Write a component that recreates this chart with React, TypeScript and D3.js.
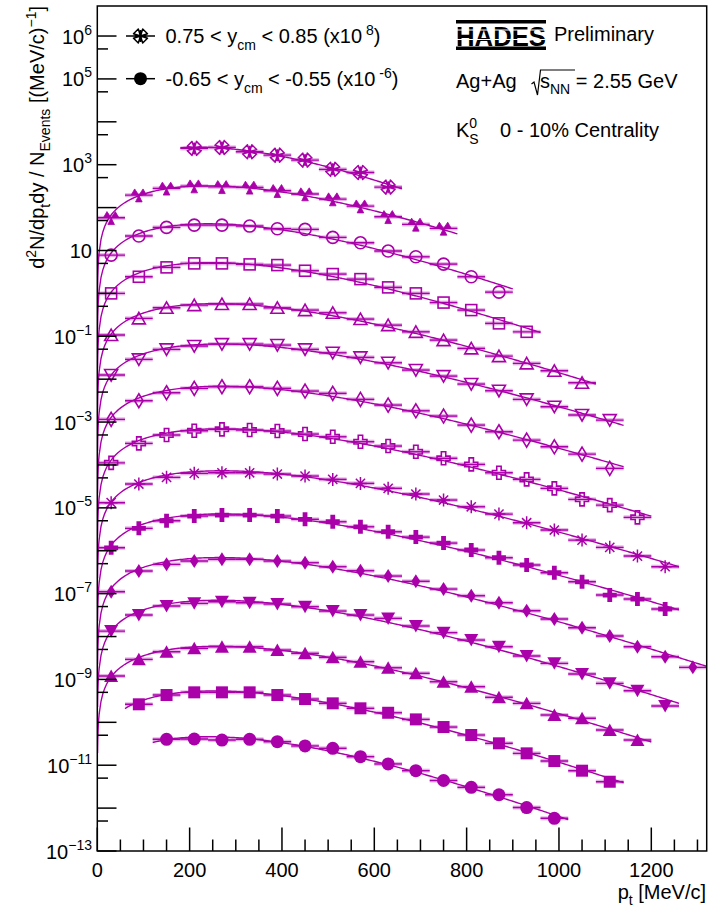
import React from 'react';
import * as d3 from 'd3';

// p_t bin centres [MeV/c], 60 MeV/c wide bins
const PT_BINS = [30, 90, 150, 210, 270, 330, 390, 450, 510, 570, 630, 690, 750, 810, 870, 930, 990, 1050, 1110, 1170, 1230, 1290];
const BIN_HALF = 30;

// yields as plotted (already multiplied by the 10^n factor of each rapidity bin)
const yieldYp08 = [2.40e3, 2.53e3, 2.00e3, 1.67e3, 1.28e3, 7.8e2, 6.6e2, 3.0e2];
const yieldYp07 = [57.8, 195, 281, 317, 305, 296, 247, 207, 158, 108, 61, 40.6, 32.7];
const yieldYp06 = [7.8, 21.7, 34.5, 39.1, 39.1, 37.1, 32.1, 31.0, 20.2, 15.1, 9.7, 7.13, 4.82, 2.44, 1.07];
const yieldYp05 = [1.0, 2.44, 4.04, 5.0, 5.0, 4.74, 4.57, 3.37, 2.82, 2.15, 1.38, 1.0, 0.611, 0.408, 0.2, 0.127];
const yieldYp04 = [0.107, 0.261, 0.461, 0.533, 0.564, 0.564, 0.461, 0.408, 0.353, 0.252, 0.182, 0.127, 0.0815, 0.0522, 0.0345, 0.0233, 0.0157, 0.00824];
const yieldYp03 = [0.01248, 0.029, 0.0495, 0.0592, 0.0658, 0.0658, 0.0624, 0.0495, 0.0412, 0.0322, 0.0241, 0.0163, 0.0118, 0.00769, 0.00537, 0.00338, 0.00228, 0.00146, 0.00111];
const yieldYp02 = [1.156e-3, 3.14e-3, 4.82e-3, 6.11e-3, 6.65e-3, 6.65e-3, 6.11e-3, 5.28e-3, 4.67e-3, 3.38e-3, 2.49e-3, 1.83e-3, 1.38e-3, 8.51e-4, 5.94e-4, 3.8e-4, 2.65e-4, 1.79e-4, 8.34e-5];
const yieldYp01 = [1.12e-4, 3.18e-4, 4.98e-4, 6.26e-4, 6.76e-4, 6.52e-4, 6.17e-4, 5.25e-4, 4.54e-4, 3.48e-4, 2.76e-4, 2.03e-4, 1.43e-4, 1.03e-4, 6.58e-5, 4.61e-5, 2.85e-5, 1.58e-5, 1.16e-5, 6.01e-6];
const yieldY00 = [1.32e-5, 3.59e-5, 5.14e-5, 6.37e-5, 6.58e-5, 6.58e-5, 6.14e-5, 5.51e-5, 4.61e-5, 3.72e-5, 2.85e-5, 2.1e-5, 1.52e-5, 1.06e-5, 7.16e-6, 4.5e-6, 3.04e-6, 1.77e-6, 1.2e-6, 7.52e-7, 4.24e-7];
const yieldYm01 = [1.17e-6, 3.33e-6, 5.0e-6, 6.44e-6, 6.79e-6, 6.79e-6, 6.44e-6, 5.4e-6, 4.74e-6, 3.62e-6, 2.77e-6, 2.08e-6, 1.51e-6, 1.04e-6, 6.87e-7, 4.65e-7, 3.07e-7, 1.89e-7, 9.27e-8, 7.48e-8, 4.38e-8];
const yieldYm02 = [1.11e-7, 3.37e-7, 4.82e-7, 5.75e-7, 6.31e-7, 6.31e-7, 5.75e-7, 5.25e-7, 4.24e-7, 3.42e-7, 2.57e-7, 1.94e-7, 1.28e-7, 8.93e-8, 6.14e-8, 3.99e-8, 2.56e-8, 1.6e-8, 1.03e-8, 5.78e-9, 3.38e-9, 1.91e-9];
const yieldYm03 = [1.34e-8, 3.17e-8, 5.14e-8, 5.94e-8, 6.47e-8, 6.14e-8, 5.73e-8, 4.95e-8, 3.93e-8, 3.17e-8, 2.65e-8, 1.76e-8, 1.23e-8, 8.28e-9, 5.78e-9, 3.51e-9, 2.37e-9, 1.34e-9, 8.11e-10, 5.46e-10, 2.4e-10];
const yieldYm04 = [1.2e-9, 2.94e-9, 4.43e-9, 5.31e-9, 5.78e-9, 5.78e-9, 4.84e-9, 4.06e-9, 3.27e-9, 2.59e-9, 1.87e-9, 1.39e-9, 8.83e-10, 6.76e-10, 3.83e-10, 2.77e-10, 1.48e-10, 1.24e-10, 6.62e-11, 3.86e-11];
const yieldYm05 = [2.63e-10, 4.33e-10, 5.0e-10, 5.0e-10, 5.0e-10, 4.33e-10, 3.49e-10, 2.77e-10, 2.12e-10, 1.67e-10, 1.17e-10, 7.76e-11, 5.06e-11, 3.24e-11, 1.89e-11, 1.25e-11, 7.45e-12, 4.12e-12];
const yieldYm06 = [4.02e-11, 4.08e-11, 3.86e-11, 4.02e-11, 3.53e-11, 2.81e-11, 2.48e-11, 1.58e-11, 1.07e-11, 7.45e-12, 4.4e-12, 3.05e-12, 2.05e-12, 1.03e-12, 5.78e-13];

const YIELDS = [yieldYp08, yieldYp07, yieldYp06, yieldYp05, yieldYp04, yieldYp03, yieldYp02, yieldYp01, yieldY00, yieldYm01, yieldYm02, yieldYm03, yieldYm04, yieldYm05, yieldYm06];
// index into PT_BINS of the first point of every rapidity bin
const FIRST_BIN = [3, 0, 0, 0, 0, 0, 0, 0, 0, 0, 0, 0, 0, 1, 2];
const MARKERS = ['openStarX', 'fullThreeTri', 'openCircle', 'openSquare', 'openTriUp', 'openTriDown', 'openDiamond', 'openCross', 'asterisk', 'fullCross', 'fullDiamond', 'fullTriDown', 'fullTriUp', 'fullSquare', 'fullCircle'];

const Y_LABEL_EXP = [6, 5, 3, 1, -1, -3, -5, -7, -9, -11, -13];
const X_TICKS = [0, 200, 400, 600, 800, 1000, 1200];

const W = 719;
const H = 911;
const COLOR = '#aa00aa';
const FONT = '"Liberation Sans", Arial, Helvetica, sans-serif';
const K0_MASS = 497.6;

const x = d3.scaleLinear().domain([0, 1320]).range([97.3, 706.7]);
const y = d3.scaleLog().domain([1e-13, Math.pow(10, 6.7)]).range([851, 6]);

// Boltzmann fit  A * pt * mt * exp(-mt/T), least squares in log space
function fitBoltzmann(pts: number[], vals: number[]) {
  let best = { T: 100, logA: 0, sse: Infinity };
  for (let T = 40; T <= 250; T += 0.25) {
    const r = pts.map((p, i) => {
      const mt = Math.hypot(p, K0_MASS);
      return Math.log(vals[i]) - Math.log(p * mt) + mt / T;
    });
    const logA = d3.mean(r) as number;
    const sse = d3.sum(r, v => (v - logA) ** 2);
    if (sse < best.sse) best = { T, logA, sse };
  }
  return best;
}
const boltz = (p: number, f: { T: number; logA: number }) => {
  const mt = Math.hypot(p, K0_MASS);
  return Math.exp(f.logA) * p * mt * Math.exp(-mt / f.T);
};

// three narrow wedges pointing up-left, up-right and down
const threeTri = (() => {
  const r = 7.5;
  const half = (26 * Math.PI) / 180;
  return [-150, -30, 90]
    .map(a => {
      const t = (a * Math.PI) / 180;
      const p1 = [r * Math.cos(t - half), r * Math.sin(t - half)];
      const p2 = [r * Math.cos(t + half), r * Math.sin(t + half)];
      return `M0,0L${p1[0].toFixed(2)},${p1[1].toFixed(2)}L${p2[0].toFixed(2)},${p2[1].toFixed(2)}Z`;
    })
    .join('');
})();

function Marker({ kind, cx, cy, color }: { kind: string; cx: number; cy: number; color: string }) {
  const t = `translate(${cx},${cy})`;
  const open = { fill: 'none', stroke: color, strokeWidth: 1.6 };
  const full = { fill: color, stroke: 'none' };
  switch (kind) {
    case 'openCircle':
      return <circle cx={cx} cy={cy} r={6} {...open} />;
    case 'fullCircle':
      return <circle cx={cx} cy={cy} r={6.5} {...full} />;
    case 'openSquare':
      return <rect x={cx - 5.5} y={cy - 5.5} width={11} height={11} {...open} />;
    case 'fullSquare':
      return <rect x={cx - 6} y={cy - 6} width={12} height={12} {...full} />;
    case 'openTriUp':
      return <path transform={t} d="M0,-6L6.5,5.5L-6.5,5.5Z" {...open} />;
    case 'fullTriUp':
      return <path transform={t} d="M0,-6.5L7,6L-7,6Z" {...full} />;
    case 'openTriDown':
      return <path transform={t} d="M-6.5,-5.5L6.5,-5.5L0,6Z" {...open} />;
    case 'fullTriDown':
      return <path transform={t} d="M-7,-6L7,-6L0,6.5Z" {...full} />;
    case 'openDiamond':
      return <path transform={t} d="M0,-7L4.2,0L0,7L-4.2,0Z" {...open} />;
    case 'fullDiamond':
      return <path transform={t} d="M0,-7L4.5,0L0,7L-4.5,0Z" {...full} />;
    case 'openCross':
      return <path transform={t} d="M-2.2,-6.5H2.2V-2.2H6.5V2.2H2.2V6.5H-2.2V2.2H-6.5V-2.2H-2.2Z" {...open} />;
    case 'fullCross':
      return <path transform={t} d="M-2.4,-7H2.4V-2.4H7V2.4H2.4V7H-2.4V2.4H-7V-2.4H-2.4Z" {...full} />;
    case 'asterisk':
      return <path transform={t} d="M-6.5,0H6.5M0,-6.5V6.5M-4.6,-4.6L4.6,4.6M-4.6,4.6L4.6,-4.6" fill="none" stroke={color} strokeWidth={1.5} />;
    case 'fullThreeTri':
      return <path transform={t} d={threeTri} fill={color} stroke={color} strokeWidth={0.8} strokeLinejoin="round" />;
    case 'openStarX':
      return (
        <path
          transform={t}
          d="M0,0L-2.2,-7L-7,-2.2ZM0,0L7,-2.2L2.2,-7ZM0,0L2.2,7L7,2.2ZM0,0L-7,2.2L-2.2,7ZM0,-6V6M-6,0H6"
          fill="none"
          stroke={color}
          strokeWidth={1.5}
          strokeLinejoin="round"
        />
      );
    default:
      return null;
  }
}

const series = YIELDS.map((vals, k) => {
  const pts = vals.map((_, i) => PT_BINS[FIRST_BIN[k] + i]);
  const fit = fitBoltzmann(pts, vals);
  const lo = pts[0] - BIN_HALF;
  const hi = pts[pts.length - 1] + BIN_HALF;
  const samples = (lo === 0 ? [0.5, 1, 2, 3] : []).concat(d3.range(lo === 0 ? 4 : lo, hi, 4), [hi]);
  return { k, pts, vals, fit, samples };
});

const curveLine = d3
  .line<[number, number]>()
  .x(d => x(d[0]))
  .y(d => y(d[1]));

function Sup({ children, dy = -9 }: { children: React.ReactNode; dy?: number }) {
  return (
    <tspan dy={dy} fontSize={14}>
      {children}
    </tspan>
  );
}

export default function App() {
  const yTicksMajor = d3.range(-13, 7).map(e => Math.pow(10, e));
  const yTicksMinor = d3.range(-13, 7).map(e => 5 * Math.pow(10, e - 1)).filter(v => v > 1e-13);
  const xMinor = d3.range(50, 1320, 50).filter(v => v % 200 !== 0);

  return (
    <svg width={W} height={H} style={{ position: 'absolute', left: 0, top: 0, background: '#fff' }} fontFamily={FONT}>
      <defs>
        <clipPath id="plot">
          <rect x={97.3} y={6} width={609.4} height={845} />
        </clipPath>
      </defs>

      {/* data */}
      <g clipPath="url(#plot)">
        {series.map(s => (
          <g key={s.k}>
            {s.pts.map((p, i) => (
              <g key={i}>
                <rect
                  x={x(p - BIN_HALF)}
                  width={x(p + BIN_HALF) - x(p - BIN_HALF)}
                  y={y(s.vals[i]) - 2}
                  height={4}
                  fill={COLOR}
                  opacity={0.3}
                />
                <line x1={x(p - BIN_HALF)} x2={x(p + BIN_HALF)} y1={y(s.vals[i])} y2={y(s.vals[i])} stroke={COLOR} strokeWidth={1.4} />
                <Marker kind={MARKERS[s.k]} cx={x(p)} cy={y(s.vals[i])} color={COLOR} />
              </g>
            ))}
            <path
              d={curveLine(s.samples.map(p => [p, boltz(p, s.fit)] as [number, number])) || ''}
              fill="none"
              stroke={COLOR}
              strokeWidth={1.4}
            />
          </g>
        ))}
      </g>

      {/* frame */}
      <rect x={97.3} y={6} width={609.4} height={845} fill="none" stroke="#000" strokeWidth={1.5} />

      {/* ticks */}
      <g stroke="#000" strokeWidth={1.5}>
        {yTicksMajor.map(v => (
          <line key={'M' + v} x1={97.3} x2={116.5} y1={y(v)} y2={y(v)} />
        ))}
        {yTicksMinor.map(v => (
          <line key={'m' + v} x1={97.3} x2={108} y1={y(v)} y2={y(v)} />
        ))}
        {X_TICKS.map(v => (
          <line key={'X' + v} x1={x(v)} x2={x(v)} y1={851} y2={827.5} />
        ))}
        {xMinor.map(v => (
          <line key={'x' + v} x1={x(v)} x2={x(v)} y1={851} y2={839.5} />
        ))}
      </g>

      {/* tick labels */}
      <g fontSize={20} fill="#000">
        {Y_LABEL_EXP.map(e => (
          <text key={e} x={92} y={y(Math.pow(10, e)) + 7.5} textAnchor="end">
            10
            {e !== 1 && <Sup dy={-9}>{e < 0 ? '\u2212' + -e : String(e)}</Sup>}
          </text>
        ))}
        {X_TICKS.map(v => (
          <text key={v} x={x(v)} y={877} textAnchor="middle">
            {v}
          </text>
        ))}
      </g>

      {/* axis titles */}
      <text x={706} y={899} fontSize={20} textAnchor="end">
        p<tspan dy={6} fontSize={14}>t</tspan>
        <tspan dy={-6}> [MeV/c]</tspan>
      </text>
      <text transform="translate(44,6) rotate(-90)" fontSize={20} textAnchor="end">
        d<tspan dy={-8} fontSize={14}>2</tspan>
        <tspan dy={8}>N/dp</tspan>
        <tspan dy={6} fontSize={14}>t</tspan>
        <tspan dy={-6}>dy / N</tspan>
        <tspan dy={6} fontSize={14}>Events</tspan>
        <tspan dy={-6}> [(MeV/c)</tspan>
        <tspan dy={-8} fontSize={14}>{'\u2212'}1</tspan>
        <tspan dy={8}>]</tspan>
      </text>

      {/* legend */}
      <g>
        <line x1={126} x2={155} y1={36} y2={36} stroke="#000" strokeWidth={1.5} />
        <Marker kind="openStarX" cx={140.5} cy={36} color="#000" />
        <text x={165.5} y={43} fontSize={20}>
          0.75 &lt; y<tspan dy={7} fontSize={14}>cm</tspan>
          <tspan dy={-7}> &lt; 0.85 (x10</tspan>
          <Sup dy={-8}> 8</Sup>
          <tspan dy={8}>)</tspan>
        </text>
        <line x1={126} x2={155} y1={78.7} y2={78.7} stroke="#000" strokeWidth={1.5} />
        <Marker kind="fullCircle" cx={140.5} cy={78.7} color="#000" />
        <text x={165.5} y={86} fontSize={20}>
          -0.65 &lt; y<tspan dy={7} fontSize={14}>cm</tspan>
          <tspan dy={-7}> &lt; -0.55 (x10</tspan>
          <Sup dy={-8}> -6</Sup>
          <tspan dy={8}>)</tspan>
        </text>
      </g>

      {/* HADES logo + labels */}
      <g>
        <rect x={456} y={20} width={90} height={3.5} fill="#000" />
        <text
          transform="translate(456,45.5) scale(1,1.15)"
          fontSize={24}
          fontWeight="bold"
          textLength={90}
          lengthAdjust="spacingAndGlyphs"
        >
          HADES
        </text>
        <rect x={456} y={46.5} width={90} height={3.5} fill="#000" />
        <line x1={456} x2={546} y1={30} y2={30} stroke="#fff" strokeWidth={1} />
        <line x1={456} x2={546} y1={39.5} y2={39.5} stroke="#fff" strokeWidth={1} />
        <text x={554} y={41} fontSize={20}>
          Preliminary
        </text>

        <text x={456} y={88} fontSize={20}>
          Ag+Ag
        </text>
        <path d="M531.5,84 L534,82 L537.5,95 L540.5,70 L575,70" fill="none" stroke="#000" strokeWidth={1.2} />
        <text x={540} y={88} fontSize={20}>
          s<tspan dy={6} fontSize={14}>NN</tspan>
          <tspan dy={-6}> = 2.55 GeV</tspan>
        </text>

        <text x={456} y={137} fontSize={20}>
          K<tspan dy={-9} fontSize={14}>0</tspan>
          <tspan dx={-8} dy={16} fontSize={14}>S</tspan>
        </text>
        <text x={500} y={137} fontSize={20}>
          0 - 10% Centrality
        </text>
      </g>
    </svg>
  );
}
